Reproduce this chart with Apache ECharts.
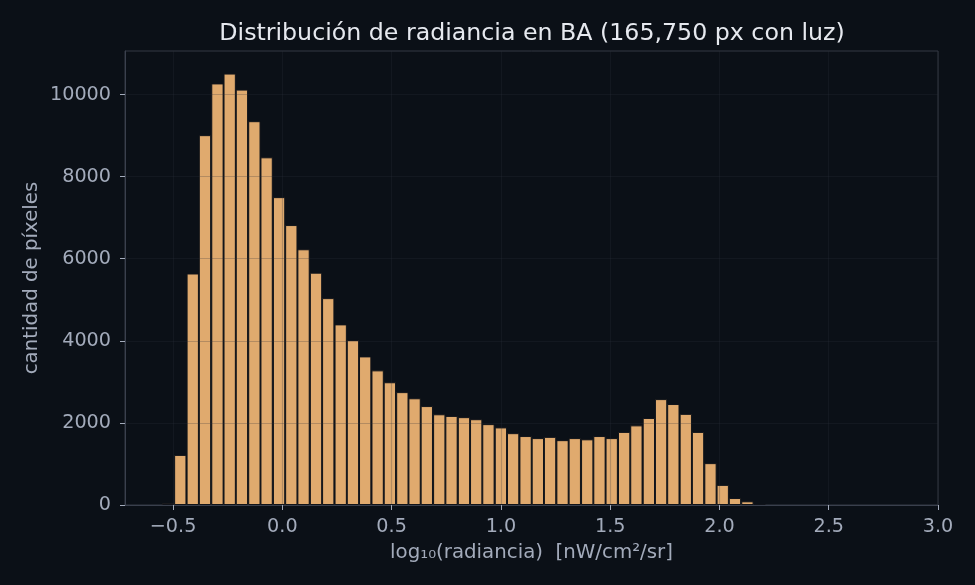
<!DOCTYPE html>
<html>
<head>
<meta charset="utf-8">
<style>
  html, body { margin: 0; padding: 0; background: #0b1017; }
  #main { width: 975px; height: 585px; }
</style>
<script src="https://cdn.jsdelivr.net/npm/echarts@6/dist/echarts.min.js"></script>
</head>
<body>
<div id="main"></div>
<script>
// bin centres
var binCenters = [-0.523, -0.467, -0.410, -0.354, -0.297, -0.241, -0.185, -0.128, -0.072, -0.015,
    0.041, 0.097, 0.154, 0.210, 0.267, 0.323, 0.379, 0.436, 0.492, 0.549,
    0.605, 0.661, 0.718, 0.774, 0.831, 0.887, 0.943, 1.000, 1.056, 1.113,
    1.169, 1.225, 1.282, 1.338, 1.395, 1.451, 1.507, 1.564, 1.620, 1.677,
    1.733, 1.789, 1.846, 1.902, 1.959, 2.015, 2.071, 2.128, 2.184];
var pixelCounts = [40, 1220, 5640, 9010, 10270, 10510, 10120, 9350, 8470, 7500,
    6820, 6230, 5660, 5040, 4400, 4020, 3620, 3280, 2990, 2750,
    2600, 2410, 2210, 2170, 2140, 2090, 1970, 1890, 1750, 1680,
    1630, 1660, 1580, 1630, 1600, 1680, 1630, 1780, 1940, 2120,
    2580, 2460, 2220, 1780, 1020, 490, 170, 90, 30];
var xTicks = [-0.5, 0, 0.5, 1, 1.5, 2, 2.5, 3];
var yTicks = [0, 2000, 4000, 6000, 8000, 10000];

var barData = [];
for (var i = 0; i < binCenters.length; i++) {
    barData.push([binCenters[i], pixelCounts[i]]);
}

var fontName = 'DejaVu Sans';
var tickColor = '#a3abbb';
var gridColor = 'rgba(43,48,60,0.25)';

var chart = echarts.init(document.getElementById('main'));
chart.setOption({
    backgroundColor: '#0b1017',
    animation: false,
    title: {
        text: 'Distribución de radiancia en BA (165,750 px con luz)',
        left: 527,
        top: 17,
        textAlign: 'center',
        textStyle: { color: '#e6e9ef', fontFamily: fontName, fontSize: 23.7, fontWeight: 'normal' }
    },
    grid: {
        left: 125,
        right: 37,
        top: 51,
        bottom: 80,
        show: true,
        backgroundColor: 'transparent',
        borderColor: '#343945',
        borderWidth: 1
    },
    xAxis: {
        type: 'value',
        min: -0.72,
        max: 3.0,
        z: 3,
        name: 'log₁₀(radiancia)  [nW/cm²/sr]',
        nameLocation: 'middle',
        nameGap: 38,
        nameTextStyle: { color: tickColor, fontFamily: fontName, fontSize: 19.8 },
        axisLine: { show: true, onZero: false, lineStyle: { color: '#3a404d', width: 1 } },
        axisTick: { show: true, length: 5, customValues: xTicks, lineStyle: { color: '#a3abbb', width: 1 } },
        axisLabel: {
            customValues: xTicks,
            color: tickColor,
            fontFamily: fontName,
            fontSize: 19.2,
            margin: 13,
            formatter: function (v) {
                return (v < 0 ? '\u2212' : '') + Math.abs(v).toFixed(1);
            }
        },
        splitLine: { show: true, lineStyle: { color: gridColor, width: 1.2 } }
    },
    yAxis: {
        type: 'value',
        min: 0,
        max: 11060,
        z: 3,
        name: 'cantidad de píxeles',
        nameLocation: 'middle',
        nameGap: 83,
        nameMoveOverlap: false,
        nameTextStyle: { color: tickColor, fontFamily: fontName, fontSize: 19.8 },
        axisLine: { show: true, onZero: false, lineStyle: { color: '#3a404d', width: 1 } },
        axisTick: { show: true, length: 5, customValues: yTicks, lineStyle: { color: '#a3abbb', width: 1 } },
        axisLabel: {
            customValues: yTicks,
            color: tickColor,
            fontFamily: fontName,
            fontSize: 19.2,
            margin: 14,
            padding: [2, 0, 0, 0],
            formatter: function (v) { return String(v); }
        },
        splitLine: { show: true, lineStyle: { color: gridColor, width: 1.2 } }
    },
    series: [{
        type: 'bar',
        z: 1,
        barWidth: 12.33,
        data: barData,
        itemStyle: { color: '#e0aa6e', borderColor: '#11141a', borderWidth: 1 }
    }]
});
</script>
</body>
</html>
